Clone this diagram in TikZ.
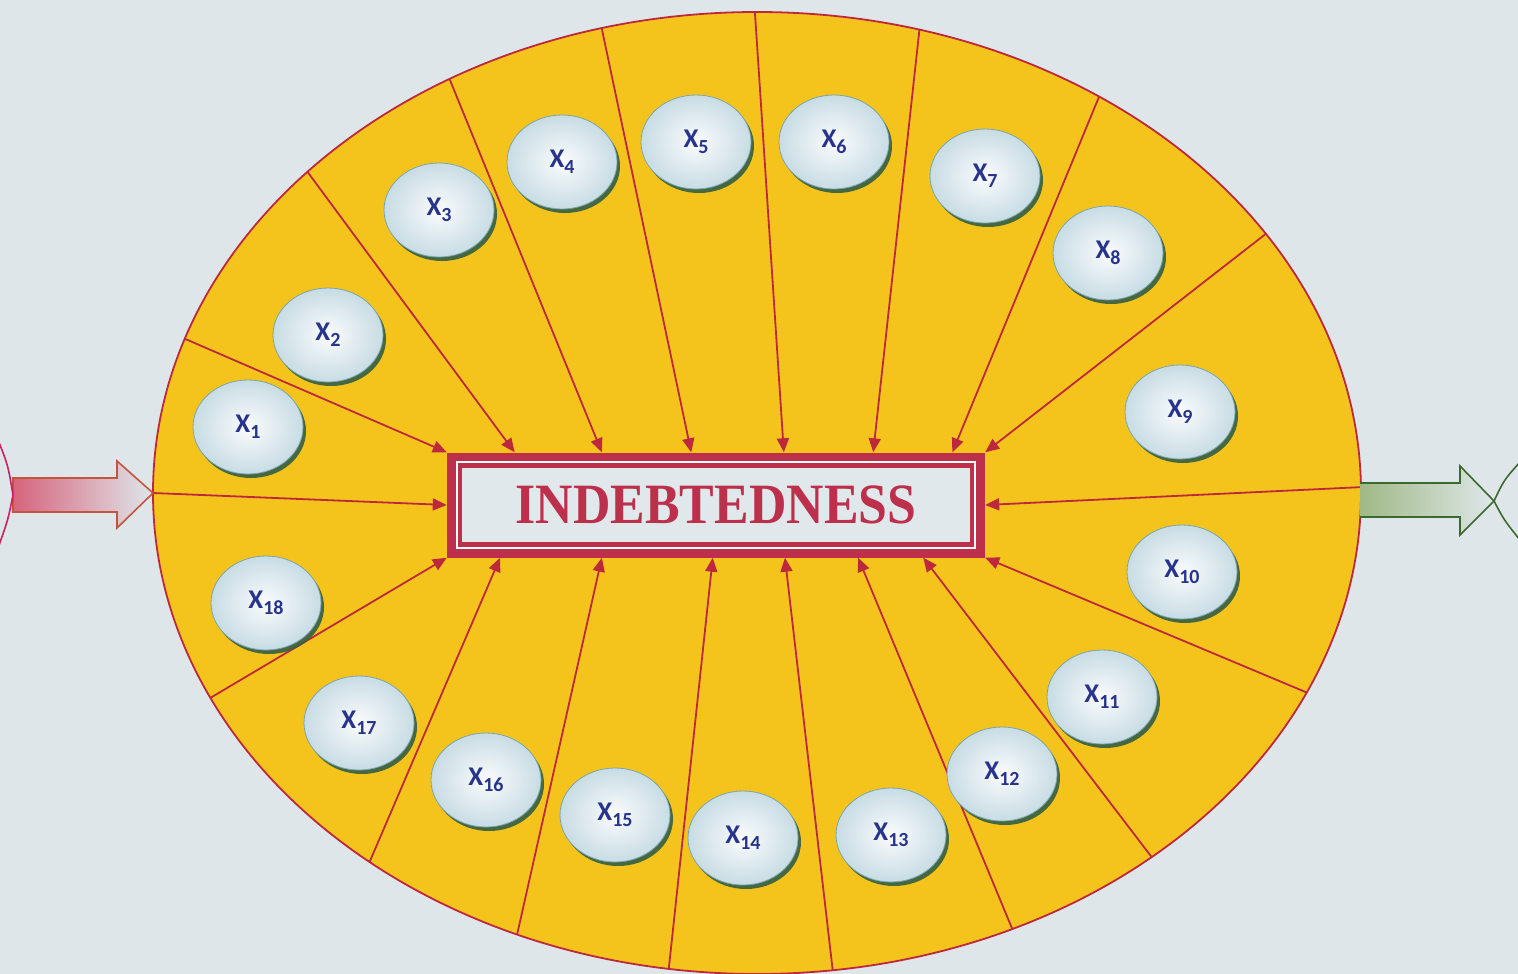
\documentclass[tikz,border=0pt]{standalone}
\usepackage{fontspec}
\setmainfont{Liberation Serif}
\newfontfamily\xfont{Carlito}
\usetikzlibrary{shapes.geometric,shadows,arrows.meta,calc}
\definecolor{bgc}{RGB}{222,230,234}
\definecolor{yel}{RGB}{245,196,28}
\definecolor{rline}{RGB}{190,40,60}
\definecolor{frame}{RGB}{188,48,75}
\definecolor{boxfill}{RGB}{224,232,236}
\definecolor{xblue}{RGB}{40,52,140}
\definecolor{xedge}{RGB}{120,165,175}
\definecolor{xshadow}{RGB}{50,95,70}
\definecolor{gline}{RGB}{60,105,45}
\definecolor{gfill}{RGB}{160,185,135}
\definecolor{pfill}{RGB}{215,100,125}
\definecolor{pline}{RGB}{195,85,60}
\definecolor{xouter}{RGB}{200,220,228}
\tikzset{
  ray/.style={draw=rline, line width=1.8pt, -{Triangle[length=14pt,width=12pt]}},
  xnode/.style={ellipse, minimum width=110pt, minimum height=94pt, inner sep=0pt,
    shading=radial, inner color=white!85!boxfill, outer color=xouter,
    draw=xedge, line width=0.8pt,
    drop shadow={shadow xshift=3pt, shadow yshift=-4pt, fill=xshadow, opacity=0.9},
    font=\xfont\bfseries\fontsize{27}{27}\selectfont, text=xblue},
}
\newcommand{\xl}[1]{X\raisebox{-6pt}{\fontsize{20}{20}\selectfont #1}}
\begin{document}
\begin{tikzpicture}[x=1pt,y=-1pt]
\useasboundingbox (0,0) rectangle (1518,974);
\fill[bgc] (0,0) rectangle (1518,974);
% big ellipse
\node[ellipse, minimum width=1208pt, minimum height=962pt, inner sep=0pt, fill=yel, draw=rline, line width=1.8pt] (big) at (757,493) {};
% box
\node[minimum width=538pt, minimum height=105pt, inner sep=0pt, fill=frame] (box) at (716,505) {};
% ellipse boundary points
\foreach \n/\a in {a1/-161.3,a2/-138.1,a3/-120.6,a4/-104.9,a5/-90.2,a6/-74.4,a7/-55.5,a8/-32.6,
  lft/180,rgt/-0.7,b1/154.8,b2/129.9,b3/113.4,b4/98.4,b5/82.8,b6/65.0,b7/49.2,b8/24.5}
  \coordinate (\n) at ($(big.center)+(\a:604 and 481)$);
% rays
\draw[ray] (a1) -- (box.north west);
\draw[ray] (a2) -- ($(box.north west)!0.126!(box.north east)$);
\draw[ray] (a3) -- ($(box.north west)!0.288!(box.north east)$);
\draw[ray] (a4) -- ($(box.north west)!0.454!(box.north east)$);
\draw[ray] (a5) -- ($(box.north west)!0.626!(box.north east)$);
\draw[ray] (a6) -- ($(box.north west)!0.792!(box.north east)$);
\draw[ray] (a7) -- ($(box.north west)!0.939!(box.north east)$);
\draw[ray] (a8) -- (box.north east);
\draw[ray] (lft) -- (box.west);
\draw[ray] (rgt) -- (box.east);
\draw[ray] (b1) -- (box.south west);
\draw[ray] (b2) -- ($(box.south west)!0.099!(box.south east)$);
\draw[ray] (b3) -- ($(box.south west)!0.288!(box.south east)$);
\draw[ray] (b4) -- ($(box.south west)!0.494!(box.south east)$);
\draw[ray] (b5) -- ($(box.south west)!0.628!(box.south east)$);
\draw[ray] (b6) -- ($(box.south west)!0.764!(box.south east)$);
\draw[ray] (b7) -- ($(box.south west)!0.885!(box.south east)$);
\draw[ray] (b8) -- (box.south east);
% box frame detail
\draw[white, line width=2pt] ($(box.north west)+(10,10)$) rectangle ($(box.south east)+(-10,-10)$);
\draw[fill=boxfill, draw=frame, line width=2.5pt] ($(box.north west)+(14,14)$) rectangle ($(box.south east)+(-14,-14)$);
\node[text=frame, inner sep=0pt] (title) at (box.center) {\fontsize{57}{57}\selectfont\bfseries\scalebox{0.91}[1]{INDEBTEDNESS}};
% X nodes
\node[xnode] (x1) at (248,427) {\xl{1}};
\node[xnode] (x2) at (328,335) {\xl{2}};
\node[xnode] (x3) at (439,210) {\xl{3}};
\node[xnode] (x4) at (562,162) {\xl{4}};
\node[xnode] (x5) at (696,142) {\xl{5}};
\node[xnode] (x6) at (834,142) {\xl{6}};
\node[xnode] (x7) at (985,176) {\xl{7}};
\node[xnode] (x8) at (1108,253) {\xl{8}};
\node[xnode] (x9) at (1180,412) {\xl{9}};
\node[xnode] (x10) at (1182,572) {\xl{10}};
\node[xnode] (x11) at (1102,697) {\xl{11}};
\node[xnode] (x12) at (1002,774) {\xl{12}};
\node[xnode] (x13) at (891,835) {\xl{13}};
\node[xnode] (x14) at (743,838) {\xl{14}};
\node[xnode] (x15) at (615,815) {\xl{15}};
\node[xnode] (x16) at (486,780) {\xl{16}};
\node[xnode] (x17) at (359,723) {\xl{17}};
\node[xnode] (x18) at (266,603) {\xl{18}};
% side arrows
\draw[draw=pline, line width=1.6pt, left color=pfill, right color=bgc, line join=miter]
  (13,478) -- (117,478) -- (117,461) -- (lft) -- (117,528) -- (117,512) -- (13,512) -- cycle;
\draw[draw=gline, line width=1.6pt, left color=gfill, right color=bgc, line join=miter]
  (1360,483) -- (1460,483) -- (1460,466) -- (1494,501) -- (1460,535) -- (1460,517) -- (1360,517);
\draw[draw=rline!80!magenta, line width=1.6pt] (-2,440) .. controls (8,465) .. (13,495) .. controls (8,520) .. (-2,548);
\draw[draw=gline, line width=1.6pt] (1520,462) .. controls (1504,480) .. (1494,501) .. controls (1504,520) .. (1520,540);
\end{tikzpicture}
\end{document}
